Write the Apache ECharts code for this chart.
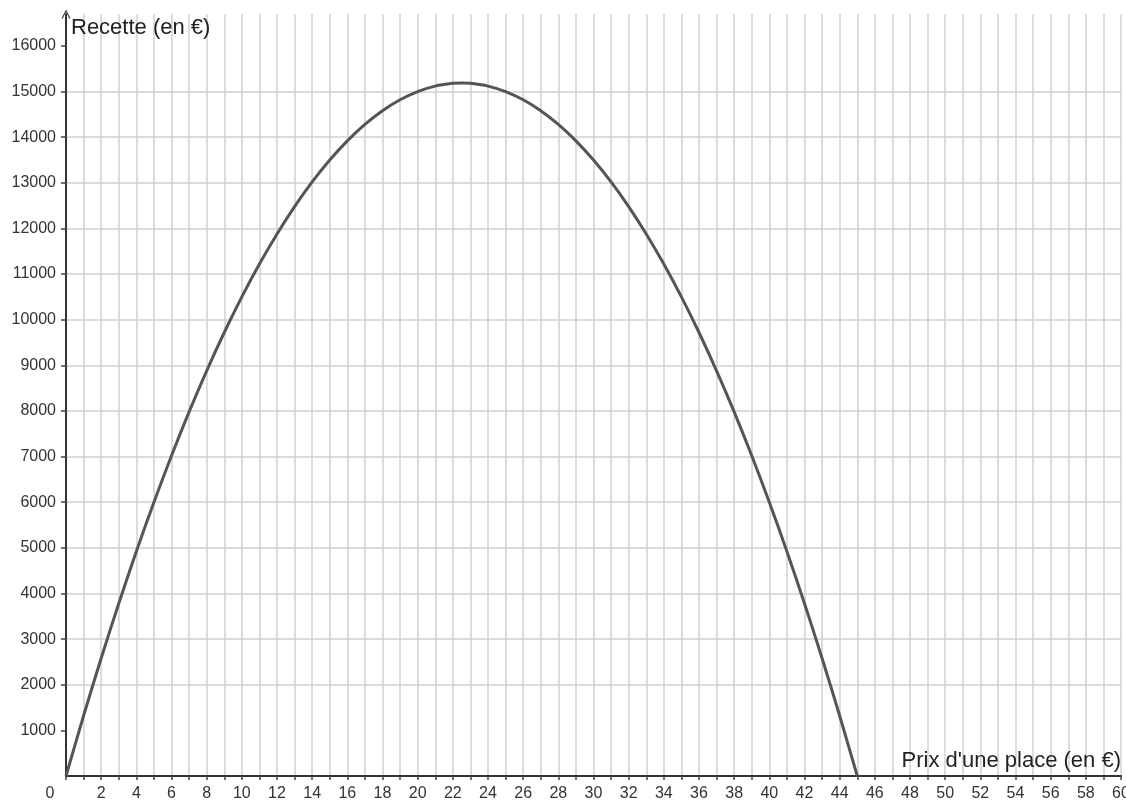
<!DOCTYPE html>
<html>
<head>
<meta charset="utf-8"/>
<title>Recette en fonction du prix</title>
<script src="https://cdn.jsdelivr.net/npm/echarts@6/dist/echarts.min.js"></script>
<style>
  html, body { margin: 0; padding: 0; background: #fff; }
  #container { width: 1126px; height: 811px; }
</style>
</head>
<body>
<div id="container"></div>
<script type="text/javascript">
    // valeurs
    var prix = [0, 1, 2, 3, 4, 5, 6, 7, 8, 9, 10, 11, 12, 13, 14, 15, 16, 17, 18, 19, 20, 21, 22, 22.5,
        23, 24, 25, 26, 27, 28, 29, 30, 31, 32, 33, 34, 35, 36, 37, 38, 39, 40, 41, 42, 43, 44, 45];
    var recette = [0, 1320, 2580, 3780, 4920, 6000, 7020, 7980, 8880, 9720, 10500, 11220, 11880, 12480,
        13020, 13500, 13920, 14280, 14580, 14820, 15000, 15120, 15180, 15190,
        15180, 15120, 15000, 14820, 14580, 14280, 13920, 13500, 13020, 12480, 11880, 11220, 10500,
        9720, 8880, 7980, 7020, 6000, 4920, 3780, 2580, 1320, 0];

    // graduations
    var xLabels = [0, 2, 4, 6, 8, 10, 12, 14, 16, 18, 20, 22, 24, 26, 28, 30, 32, 34, 36, 38, 40,
        42, 44, 46, 48, 50, 52, 54, 56, 58, 60];
    var yLabels = [1000, 2000, 3000, 4000, 5000, 6000, 7000, 8000, 9000, 10000, 11000, 12000,
        13000, 14000, 15000, 16000];

    var points = [];
    for (var i = 0; i < prix.length; i++) {
        points.push([prix[i], recette[i]]);
    }

    var myChart = echarts.init(document.getElementById('container'));

    var option = {
        animation: false,
        backgroundColor: '#fff',
        grid: {
            left: 66,
            right: 5,
            top: 14,
            bottom: 35,
            containLabel: false,
            outerBoundsMode: 'none'
        },
        xAxis: {
            type: 'value',
            min: 0,
            max: 60,
            interval: 1,
            axisLine: {
                show: true,
                onZero: false,
                lineStyle: { color: '#333', width: 2 }
            },
            axisTick: {
                show: true,
                length: 4,
                lineStyle: { color: '#444', width: 1.5 }
            },
            axisLabel: {
                customValues: xLabels,
                margin: 10,
                fontSize: 16,
                color: '#333',
                hideOverlap: false,
                fontFamily: 'Liberation Sans, Arial, sans-serif',
                formatter: function (v) {
                    if (v === 0) return '{z|0}';
                    return String(v);
                },
                rich: {
                    z: { fontSize: 16, color: '#333', padding: [0, 32, 0, 0] }
                }
            },
            splitLine: {
                show: true,
                showMinLine: false,
                lineStyle: { color: '#d0d0d0', width: 1.5 }
            }
        },
        yAxis: {
            type: 'value',
            min: 0,
            max: 16700,
            interval: 500,
            axisLine: {
                show: true,
                onZero: false,
                symbol: ['none', 'path://M0,10 L5,0 L10,10 L8.6,10 L5,2.6 L1.4,10 Z'],
                symbolSize: [9, 9],
                lineStyle: { color: '#333', width: 2 }
            },
            axisTick: {
                show: true,
                customValues: yLabels,
                length: 5,
                lineStyle: { color: '#444', width: 1.5 }
            },
            axisLabel: {
                customValues: yLabels,
                margin: 10,
                fontSize: 16,
                color: '#333',
                fontFamily: 'Liberation Sans, Arial, sans-serif',
                formatter: function (v) {
                    return String(v);
                }
            },
            splitLine: {
                show: true,
                showMinLine: false,
                showMaxLine: false,
                lineStyle: { color: '#d0d0d0', width: 1.5 }
            }
        },
        graphic: [
            {
                type: 'text',
                left: 71,
                top: 17,
                z: 100,
                style: {
                    text: 'Recette (en €)',
                    font: '22px Liberation Sans, Arial, sans-serif',
                    fill: '#222'
                }
            },
            {
                type: 'text',
                right: 5,
                top: 750,
                z: 100,
                style: {
                    text: "Prix d'une place (en €)",
                    font: '22px Liberation Sans, Arial, sans-serif',
                    fill: '#222'
                }
            }
        ],
        series: [{
            type: 'line',
            data: points,
            smooth: 0.3,
            showSymbol: false,
            lineStyle: { color: '#555', width: 3 },
            z: 5
        }]
    };

    myChart.setOption(option);
</script>
</body>
</html>
